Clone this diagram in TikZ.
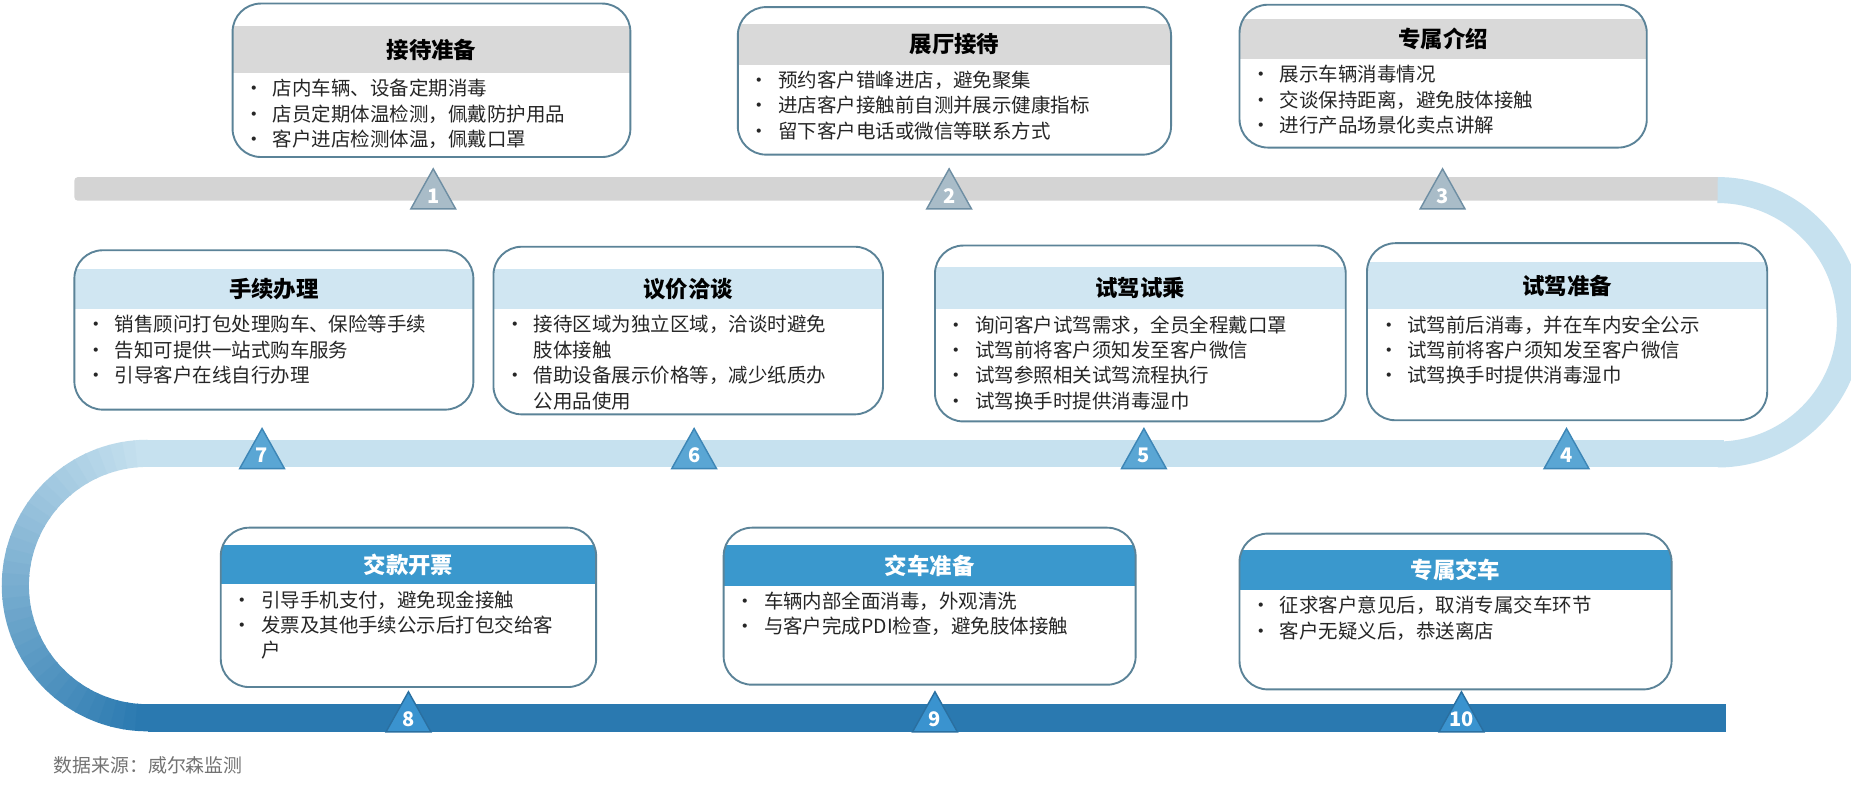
\documentclass[tikz,border=0pt]{standalone}
\usepackage{fontspec}
\setmainfont{Noto Sans CJK SC}
\usetikzlibrary{calc}
\definecolor{bord}{HTML}{5B8398}
\definecolor{hgray}{HTML}{D9D9D9}
\definecolor{bgray}{HTML}{D4D4D4}
\definecolor{hlight}{HTML}{D0E6F2}
\definecolor{blight}{HTML}{C6E1EF}
\definecolor{hdark}{HTML}{3A98CD}
\definecolor{bdark}{HTML}{2A79B0}
\definecolor{tgf}{HTML}{A9BCC8}\definecolor{tgd}{HTML}{6E8EA3}
\definecolor{tlf}{HTML}{5AA6D4}\definecolor{tld}{HTML}{3D86B6}
\definecolor{tdf}{HTML}{3A93CF}\definecolor{tdd}{HTML}{2A6FA0}
\newcommand{\bl}[1]{\makebox[24pt][l]{•}#1}
\newcommand{\cn}[1]{\hspace*{24pt}#1}
% name x1 y1 x2 y2 hy1 hy2 hcolor tcolor title bullets
\newcommand{\stepbox}[9]{%
  \begin{scope}
    \clip[rounded corners=24pt] (#2,#3) rectangle (#4,#5);
    \fill[#8] (#2,#6) rectangle (#4,#7);
  \end{scope}
  \draw[bord,line width=1.6pt,rounded corners=24pt] (#2,#3) rectangle (#4,#5);
  \node[font=\fontsize{19}{22}\selectfont\bfseries,text=#9] (#1) at ({(#2+#4)/2},{(#6+#7)/2}) {\boxtitle};
  \node[anchor=north west,align=left,inner sep=0pt,font=\fontsize{16.5}{21.5}\selectfont,text=black!85] (#1l) at ({#2+10},{#7+5}) {\boxlines};
}
\newcommand{\tri}[5]{% name x y fill draw
  \filldraw[fill=#4,draw=#5,line width=1.2pt] (#2,#3-18) -- (#2+19,#3+16) -- (#2-19,#3+16) -- cycle;
  \node[text=white,font=\fontsize{17}{17}\selectfont\bfseries] (#1) at (#2,#3+5) {#1};
}
\begin{document}
\begin{tikzpicture}[x=1pt,y=-1pt]
\useasboundingbox (0,0) rectangle (1568,667);
\fill[white] (0,0) rectangle (1568,667);
% tracks
\fill[bgray,rounded corners=3pt] (63,150) rectangle (1460,170);
\draw[blight,line width=22pt] (1455,161) arc[start angle=-90,end angle=90,radius=112];
\fill[blight] (120,373) rectangle (1460,396);
\foreach \i in {0,...,35}{
  \pgfmathsetmacro{\a}{-90-5*\i}
  \pgfmathsetmacro{\b}{-90-5*(\i+1)-0.6}
  \pgfmathsetmacro{\m}{100-100*\i/35}
  \draw[blight!\m!bdark,line width=23pt] ({125+112*cos(\a)},{496+112*sin(\a)}) arc[start angle=\a,end angle=\b,radius=112];
}
\fill[bdark] (125,596) rectangle (1460,620);
\fill[bdark] (1458,596) rectangle (1462,620);
% row 1
\def\boxtitle{接待准备}\def\boxlines{\bl{店内车辆、设备定期消毒}\\\bl{店员定期体温检测，佩戴防护用品}\\\bl{客户进店检测体温，佩戴口罩}}
\stepbox{b1}{197}{3}{534}{133}{22}{62}{hgray}{black}
\def\boxtitle{展厅接待}\def\boxlines{\bl{预约客户错峰进店，避免聚集}\\\bl{进店客户接触前自测并展示健康指标}\\\bl{留下客户电话或微信等联系方式}}
\stepbox{b2}{625}{6}{992}{131}{20}{55}{hgray}{black}
\def\boxtitle{专属介绍}\def\boxlines{\bl{展示车辆消毒情况}\\\bl{交谈保持距离，避免肢体接触}\\\bl{进行产品场景化卖点讲解}}
\stepbox{b3}{1050}{4}{1395}{125}{16}{50}{hgray}{black}
\tri{1}{367}{161}{tgf}{tgd}\tri{2}{804}{161}{tgf}{tgd}\tri{3}{1222}{161}{tgf}{tgd}
% row 2
\def\boxtitle{手续办理}\def\boxlines{\bl{销售顾问打包处理购车、保险等手续}\\\bl{告知可提供一站式购车服务}\\\bl{引导客户在线自行办理}}
\stepbox{b7}{63}{212}{401}{347}{228}{262}{hlight}{black}
\def\boxtitle{议价洽谈}\def\boxlines{\bl{接待区域为独立区域，洽谈时避免}\\\cn{肢体接触}\\\bl{借助设备展示价格等，减少纸质办}\\\cn{公用品使用}}
\stepbox{b6}{418}{209}{748}{351}{228}{262}{hlight}{black}
\def\boxtitle{试驾试乘}\def\boxlines{\bl{询问客户试驾需求，全员全程戴口罩}\\\bl{试驾前将客户须知发至客户微信}\\\bl{试驾参照相关试驾流程执行}\\\bl{试驾换手时提供消毒湿巾}}
\stepbox{b5}{792}{208}{1140}{357}{226}{262}{hlight}{black}
\def\boxtitle{试驾准备}\def\boxlines{\bl{试驾前后消毒，并在车内安全公示}\\\bl{试驾前将客户须知发至客户微信}\\\bl{试驾换手时提供消毒湿巾}}
\stepbox{b4}{1158}{206}{1497}{356}{222}{262}{hlight}{black}
\tri{7}{222}{381}{tlf}{tld}\tri{6}{588}{381}{tlf}{tld}\tri{5}{969}{381}{tlf}{tld}\tri{4}{1327}{381}{tlf}{tld}
% row 3
\def\boxtitle{交款开票}\def\boxlines{\bl{引导手机支付，避免现金接触}\\\bl{发票及其他手续公示后打包交给客}\\\cn{户}}
\stepbox{b8}{187}{447}{505}{582}{462}{495}{hdark}{white}
\def\boxtitle{交车准备}\def\boxlines{\bl{车辆内部全面消毒，外观清洗}\\\bl{与客户完成PDI检查，避免肢体接触}}
\stepbox{b9}{613}{447}{962}{580}{462}{496}{hdark}{white}
\def\boxtitle{专属交车}\def\boxlines{\bl{征求客户意见后，取消专属交车环节}\\\bl{客户无疑义后，恭送离店}}
\stepbox{b10}{1050}{452}{1416}{584}{466}{500}{hdark}{white}
\tri{8}{346}{604}{tdf}{tdd}\tri{9}{792}{604}{tdf}{tdd}\tri{10}{1238}{604}{tdf}{tdd}
\node[anchor=west,text=black!55,font=\fontsize{16}{16}\selectfont] (src) at (42,648) {数据来源：威尔森监测};
\end{tikzpicture}
\end{document}
